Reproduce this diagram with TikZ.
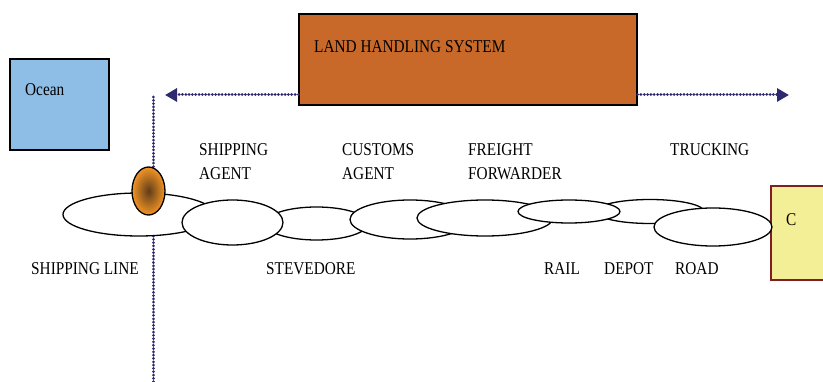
\documentclass[tikz,border=0pt]{standalone}
\usepackage{fontspec}
\setmainfont{Liberation Serif}[FakeStretch=0.85]
\usepackage{tikz}
\usetikzlibrary{arrows.meta}
\usetikzlibrary{shapes.geometric}
\definecolor{ocean}{HTML}{8EBEE6}
\definecolor{terre}{HTML}{C8692A}
\definecolor{jaune}{HTML}{F3EF96}
\definecolor{bordeaux}{HTML}{7F1F22}
\definecolor{violet}{HTML}{2F2A70}

\begin{document}
\begin{tikzpicture}[x=1pt, y=-1pt]
	% STYLES
	\tikzstyle{boite} = [draw=black, line width=1.3pt, inner sep=0]
	\tikzstyle{bulle} = [ellipse, draw=black, fill=white, line width=1.3pt, inner sep=0]
	\tikzstyle{pointille} = [line width=3pt, draw=violet, line cap=round, dash pattern=on 0.01pt off 3.3pt]
	\tikzstyle{fleche} = [-{Triangle[length=12pt, width=13pt, line cap=butt]}]
	\tikzstyle{nom} = [anchor=north west, inner sep=0, align=left,
		font=\fontsize{18}{24}\selectfont, text=black]

	\useasboundingbox (0, 0) rectangle (823, 382);

	% BOXES
	% ocean
	\node[boite, fill=ocean, minimum width=99pt, minimum height=91pt] (ocean) at (59.5, 104.5) {};
	\node[nom] (oceantxt) at (25, 83) {Ocean};
	% land handling system
	\node[boite, fill=terre, minimum width=338pt, minimum height=91pt] (lhs) at (468, 59.5) {};
	\node[nom] (lhstxt) at (314, 40) {LAND HANDLING SYSTEM};
	% C
	\node[boite, draw=bordeaux, fill=jaune, minimum width=70pt, minimum height=94pt] (client) at (806, 233) {};
	\node[nom] (clienttxt) at (786, 213) {C};

	% DOTTED LINES
	\coordinate (gauche) at (165, 95);
	\coordinate (droite) at (789, 95);
	\coordinate (vhaut) at (153, 97);
	\coordinate (vbas) at (153, 382);
	\path[pointille] (vhaut) -- (vbas);
	\path[pointille, fleche, fill=violet] (lhs.west |- gauche) -- (gauche);
	\path[pointille, fleche, fill=violet] (lhs.east |- droite) -- (droite);

	% ELLIPSES
	\node[bulle, minimum width=152pt, minimum height=43pt] (ligne) at (139, 214.5) {};
	\node[bulle, minimum width=103pt, minimum height=33pt] (stevedore) at (316.5, 223.5) {};
	\node[bulle, minimum width=101pt, minimum height=45pt] (agent) at (232.5, 222.5) {};
	\node[bulle, minimum width=120pt, minimum height=39pt] (douane) at (410, 219.5) {};
	\node[bulle, minimum width=136pt, minimum height=36pt] (transitaire) at (485, 218) {};
	\node[bulle, minimum width=108pt, minimum height=24pt] (depot) at (650, 211.5) {};
	\node[bulle, minimum width=102pt, minimum height=23pt] (rail) at (569, 211.5) {};
	\node[bulle, minimum width=118pt, minimum height=38pt] (route) at (713, 227) {};

	% POINT
	\node[ellipse, draw=black, line width=1.3pt, inner sep=0, minimum width=33pt, minimum height=48pt,
		shading=radial, inner color={rgb,255:red,95;green,60;blue,25}, outer color={rgb,255:red,242;green,148;blue,36}]
		(port) at (148.5, 191) {};

	% LABELS
	\node[nom] (agenttxt) at (199, 143) {SHIPPING\\AGENT};
	\node[nom] (douanetxt) at (342, 143) {CUSTOMS\\AGENT};
	\node[nom] (transitairetxt) at (468, 143) {FREIGHT\\FORWARDER};
	\node[nom] (camiontxt) at (670, 143) {TRUCKING};
	\node[nom] (lignetxt) at (31, 262) {SHIPPING LINE};
	\node[nom] (stevedoretxt) at (266, 262) {STEVEDORE};
	\node[nom] (railtxt) at (544, 262) {RAIL};
	\node[nom] (depottxt) at (604, 262) {DEPOT};
	\node[nom] (routetxt) at (675, 262) {ROAD};

\end{tikzpicture}
\end{document}
